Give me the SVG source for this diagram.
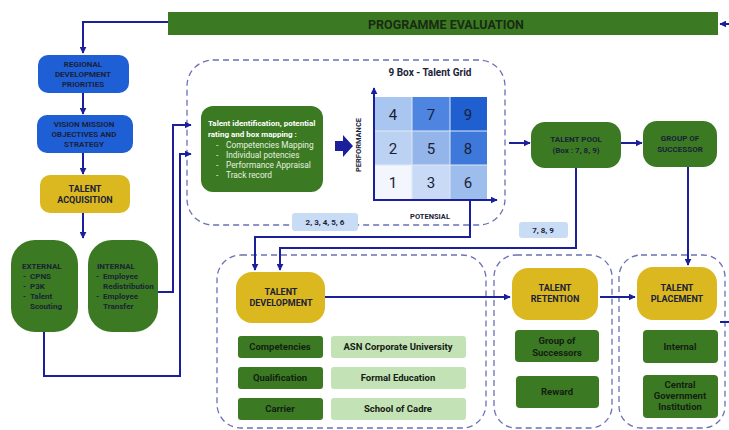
<svg xmlns="http://www.w3.org/2000/svg" width="729" height="430" viewBox="0 0 729 430">
<defs>
<marker id="ah" viewBox="0 0 10 10" refX="9" refY="5" markerWidth="7" markerHeight="7" markerUnits="userSpaceOnUse" orient="auto"><path d="M0,0 L10,5 L0,10 z" fill="#1b1f9c"/></marker>
<style>
text{font-family:Roboto,"Liberation Sans",Arial,sans-serif;font-weight:bold}
.conn{fill:none;stroke:#1b1f9c;stroke-width:2}
.dash{fill:none;stroke:#6a70b5;stroke-width:1.3;stroke-dasharray:6 4}
.blue{fill:#1f5fd6}
.yel{fill:#dcb820}
.grn{fill:#3b7a22}
.lgrn{fill:#c3e2b6}
.lbl{fill:#c9dcf6}
.t8{font-size:8px;fill:#1a2238}
.t9{font-size:9px;fill:#1a2238}
.tb{font-size:9.5px;fill:#142012}
.tw{font-size:8px;fill:#ffffff}
.twn{font-size:8.3px;fill:#e8f0e0;font-weight:normal}
.num{font-size:15px;fill:#1a2238;font-weight:normal}
.c{text-anchor:middle}
</style>
</defs>
<g id="containers">
<rect class="dash" x="187" y="60" width="318" height="165" rx="26"/>
<rect class="dash" x="217" y="255" width="269" height="173" rx="24"/>
<rect class="dash" x="494" y="255" width="118" height="173" rx="22"/>
<rect class="dash" x="619" y="255" width="106" height="173" rx="22"/>
</g>
<g id="programme-evaluation">
<rect class="grn" x="168" y="12" width="550" height="23"/>
<text x="368" y="29" style="font-size:12.5px;fill:#1a2a14">PROGRAMME EVALUATION</text>
</g>
<g id="regional">
<rect class="blue" x="38" y="55" width="91" height="38" rx="10"/>
<text class="t8 c" x="83" y="67">REGIONAL</text>
<text class="t8 c" x="83" y="77">DEVELOPMENT</text>
<text class="t8 c" x="83" y="87">PRIORITIES</text>
</g>
<g id="vision">
<rect class="blue" x="37" y="115" width="96" height="38" rx="10"/>
<text class="t8 c" x="84" y="127">VISION MISSION</text>
<text class="t8 c" x="84" y="137">OBJECTIVES AND</text>
<text class="t8 c" x="84" y="147">STRATEGY</text>
</g>
<g id="acquisition">
<rect class="yel" x="40" y="175" width="90" height="38" rx="10"/>
<text class="t9 c" x="85" y="192">TALENT</text>
<text class="t9 c" x="85" y="203">ACQUISITION</text>
</g>
<g id="external">
<rect class="grn" x="11" y="240" width="67" height="92" rx="24"/>
<text class="t8" x="22" y="269">EXTERNAL</text>
<text class="t8" x="23" y="279">-</text><text class="t8" x="30" y="279">CPNS</text>
<text class="t8" x="23" y="289">-</text><text class="t8" x="30" y="289">P3K</text>
<text class="t8" x="23" y="299">-</text><text class="t8" x="30" y="299">Talent</text>
<text class="t8" x="30" y="309">Scouting</text>
</g>
<g id="internal">
<rect class="grn" x="88" y="240" width="70" height="92" rx="24"/>
<text class="t8" x="97" y="269">INTERNAL</text>
<text class="t8" x="96" y="279">-</text><text class="t8" x="103" y="279">Employee</text>
<text class="t8" x="103" y="289">Redistribution</text>
<text class="t8" x="96" y="299">-</text><text class="t8" x="103" y="299">Employee</text>
<text class="t8" x="103" y="309">Transfer</text>
</g>
<g id="identification">
<rect class="grn" x="201" y="106" width="122" height="86" rx="12"/>
<text class="tw" x="208" y="126">Talent identification, potential</text>
<text class="tw" x="208" y="137">rating and box mapping :</text>
<text class="twn" x="216" y="148">-</text><text class="twn" x="226" y="148">Competencies Mapping</text>
<text class="twn" x="216" y="158">-</text><text class="twn" x="226" y="158">Individual potencies</text>
<text class="twn" x="216" y="168">-</text><text class="twn" x="226" y="168">Performance Appraisal</text>
<text class="twn" x="216" y="178">-</text><text class="twn" x="226" y="178">Track record</text>
</g>
<g id="block-arrow">
<path d="M335,141 L343,141 L343,135 L353,146 L343,157 L343,151 L335,151 z" fill="#1b1f9c"/>
</g>
<g id="grid">
<text class="c" x="430" y="76" style="font-size:10px;fill:#1a2238">9 Box - Talent Grid</text>
<rect x="374" y="97" width="38" height="34" fill="#a9c6f0"/>
<rect x="412" y="97" width="38" height="34" fill="#4d85e0"/>
<rect x="450" y="97" width="37" height="34" fill="#1f5fd0"/>
<rect x="374" y="131" width="38" height="34" fill="#bcd2f3"/>
<rect x="412" y="131" width="38" height="34" fill="#93b5ea"/>
<rect x="450" y="131" width="37" height="34" fill="#3e78db"/>
<rect x="374" y="165" width="38" height="34" fill="#f3f6fc"/>
<rect x="412" y="165" width="38" height="34" fill="#c8daf5"/>
<rect x="450" y="165" width="37" height="34" fill="#9dbdec"/>
<g stroke="#dfe8f8" stroke-width="1"><line x1="412" y1="97" x2="412" y2="199"/><line x1="450" y1="97" x2="450" y2="199"/><line x1="374" y1="131" x2="487" y2="131"/><line x1="374" y1="165" x2="487" y2="165"/></g>
<text class="num c" x="393" y="120">4</text>
<text class="num c" x="431" y="120">7</text>
<text class="num c" x="468" y="120">9</text>
<text class="num c" x="393" y="154">2</text>
<text class="num c" x="431" y="154">5</text>
<text class="num c" x="468" y="154">8</text>
<text class="num c" x="393" y="188">1</text>
<text class="num c" x="431" y="188">3</text>
<text class="num c" x="468" y="188">6</text>
<path class="conn" d="M374,200 L374,88" marker-end="url(#ah)"/>
<path class="conn" d="M373,200 L497,200" marker-end="url(#ah)"/>
<text class="c" transform="translate(361,145) rotate(-90)" style="font-size:7.5px;fill:#1a2238">PERFORMANCE</text>
<text class="c" x="430" y="219" style="font-size:7.5px;fill:#1a2238">POTENSIAL</text>
</g>
<g id="label-23456">
<rect class="lbl" x="292" y="213" width="66" height="18" rx="3"/>
<text class="t8 c" x="325" y="225">2, 3, 4, 5, 6</text>
</g>
<g id="label-789">
<rect class="lbl" x="519" y="222" width="49" height="16" rx="3"/>
<text class="t8 c" x="543" y="233">7, 8, 9</text>
</g>
<g id="talent-pool">
<rect class="grn" x="531" y="122" width="90" height="46" rx="14"/>
<text class="t8 c" x="576" y="142">TALENT POOL</text>
<text class="t8 c" x="576" y="153">(Box : 7, 8, 9)</text>
</g>
<g id="group-successor">
<rect class="grn" x="643" y="121" width="74" height="46" rx="14"/>
<text class="t8 c" x="680" y="141">GROUP OF</text>
<text class="t8 c" x="680" y="152">SUCCESSOR</text>
</g>
<g id="talent-development">
<rect class="yel" x="236" y="272" width="89" height="51" rx="16"/>
<text class="t9 c" x="281" y="295">TALENT</text>
<text class="t9 c" x="281" y="306">DEVELOPMENT</text>
</g>
<g id="dev-items">
<rect class="grn" x="238" y="336" width="85" height="22" rx="3"/>
<text class="tb c" x="280" y="350">Competencies</text>
<rect class="grn" x="238" y="367" width="85" height="22" rx="3"/>
<text class="tb c" x="280" y="381">Qualification</text>
<rect class="grn" x="238" y="398" width="85" height="22" rx="3"/>
<text class="tb c" x="280" y="412">Carrier</text>
<rect class="lgrn" x="331" y="336" width="135" height="22" rx="3"/>
<text class="tb c" x="398" y="350">ASN Corporate University</text>
<rect class="lgrn" x="331" y="367" width="135" height="22" rx="3"/>
<text class="tb c" x="398" y="381">Formal Education</text>
<rect class="lgrn" x="331" y="398" width="135" height="22" rx="3"/>
<text class="tb c" x="398" y="412">School of Cadre</text>
</g>
<g id="talent-retention">
<rect class="yel" x="512" y="268" width="86" height="52" rx="16"/>
<text class="t9 c" x="555" y="291">TALENT</text>
<text class="t9 c" x="555" y="302">RETENTION</text>
<rect class="grn" x="515" y="330" width="84" height="32" rx="4"/>
<text class="tb c" x="557" y="344">Group of</text>
<text class="tb c" x="557" y="356">Successors</text>
<rect class="grn" x="516" y="376" width="83" height="32" rx="4"/>
<text class="tb c" x="557" y="395">Reward</text>
</g>
<g id="talent-placement">
<rect class="yel" x="637" y="267" width="80" height="53" rx="16"/>
<text class="t9 c" x="677" y="291">TALENT</text>
<text class="t9 c" x="677" y="302">PLACEMENT</text>
<rect class="grn" x="643" y="330" width="75" height="33" rx="4"/>
<text class="tb c" x="680" y="350">Internal</text>
<rect class="grn" x="643" y="375" width="75" height="43" rx="4"/>
<text class="tb c" x="680" y="388">Central</text>
<text class="tb c" x="680" y="399">Government</text>
<text class="tb c" x="680" y="410">Institution</text>
</g>
<g id="connectors">
<path class="conn" d="M168,22 L83,22 L83,53" marker-end="url(#ah)"/>
<path class="conn" d="M83,93 L83,114" marker-end="url(#ah)"/>
<path class="conn" d="M83,153 L83,174" marker-end="url(#ah)"/>
<path class="conn" d="M83,213 L83,238" marker-end="url(#ah)"/>
<path class="conn" d="M158,292 L173,292 L173,125 L191,125" marker-end="url(#ah)"/>
<path class="conn" d="M44,332 L44,376 L180,376 L180,154 L191,154" marker-end="url(#ah)"/>
<path class="conn" d="M509,143 L530,143" marker-end="url(#ah)"/>
<path class="conn" d="M621,143 L642,143" marker-end="url(#ah)"/>
<path class="conn" d="M470,200 L470,237 L255,237 L255,270" marker-end="url(#ah)"/>
<path class="conn" d="M576,168 L576,248 L280,248 L280,270" marker-end="url(#ah)"/>
<path class="conn" d="M688,167 L688,265" marker-end="url(#ah)"/>
<path class="conn" d="M325,297 L510,297" marker-end="url(#ah)"/>
<path class="conn" d="M600,297 L635,297" marker-end="url(#ah)"/>
<path class="conn" d="M729,24 L720,24" marker-end="url(#ah)"/>
<path class="conn" d="M720,322 L729,322"/>
</g>
</svg>
